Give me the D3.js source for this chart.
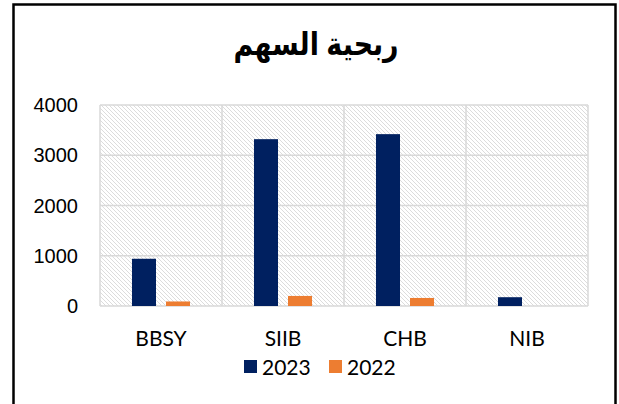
<!DOCTYPE html>
<html>
<head>
<meta charset="utf-8">
<script src="https://cdn.jsdelivr.net/npm/d3@7"></script>
<style>
  html, body { margin: 0; padding: 0; background: #fff; }
  svg { display: block; }
</style>
</head>
<body>
<svg id="chart" width="619" height="404"></svg>
<script>
// data
const categories = ["BBSY", "SIIB", "CHB", "NIB"];
const seriesNames = ["2023", "2022"];
const values2023 = [940, 3320, 3420, 175];
const values2022 = [90, 200, 160, 0];
const yTicks = [0, 1000, 2000, 3000, 4000];
const colors = { "2023": "#002060", "2022": "#ED7D31" };

const svg = d3.select("#chart");
const W = 619, H = 404;
const plot = { left: 100, right: 588, top: 105, bottom: 306 };

svg.append("rect").attr("width", W).attr("height", H).attr("fill", "#fff");

// hatch pattern for plot area
const defs = svg.append("defs");
const pat = defs.append("pattern")
    .attr("id", "hatch")
    .attr("patternUnits", "userSpaceOnUse")
    .attr("width", 4).attr("height", 4);
pat.append("rect").attr("width", 4).attr("height", 4).attr("fill", "#fff");
pat.append("path")
    .attr("d", "M-1,-1 L5,5 M-1,3 L1,5 M3,-1 L5,1")
    .attr("stroke", "#dcdcdc")
    .attr("stroke-width", 1);

// outer frame
svg.append("rect")
    .attr("x", 13.5).attr("y", 4.5)
    .attr("width", 602).attr("height", 430)
    .attr("fill", "none")
    .attr("stroke", "#000")
    .attr("stroke-width", 2.5);

// title (squeezed a bit horizontally)
svg.append("g")
    .attr("transform", "translate(316,55) scale(0.84,1)")
  .append("text")
    .attr("x", 0).attr("y", 0)
    .attr("text-anchor", "middle")
    .attr("direction", "rtl")
    .attr("font-family", "'Liberation Sans', 'DejaVu Sans', Arial, sans-serif")
    .attr("font-weight", "bold")
    .attr("font-size", 32)
    .attr("fill", "#000")
    .text("ربحية السهم");

// scales
const y = d3.scaleLinear().domain([0, 4000]).range([plot.bottom, plot.top]);
const x0 = d3.scaleBand().domain(categories).range([plot.left, plot.right]).padding(0);
const x1 = d3.scaleBand().domain(seriesNames).range([0, x0.bandwidth()])
    .paddingInner(0.294).paddingOuter(0.94);

// plot background
svg.append("rect")
    .attr("x", plot.left).attr("y", plot.top)
    .attr("width", plot.right - plot.left)
    .attr("height", plot.bottom - plot.top)
    .attr("fill", "url(#hatch)");

// grid
const grid = svg.append("g").attr("stroke", "#d9d9d9").attr("stroke-width", 1.5);
grid.selectAll(".hg").data(yTicks).enter().append("line")
    .attr("x1", plot.left).attr("x2", plot.right)
    .attr("y1", d => y(d)).attr("y2", d => y(d));
const vLines = categories.map(c => x0(c)).concat([plot.right]);
grid.selectAll(".vg").data(vLines).enter().append("line")
    .attr("x1", d => d).attr("x2", d => d)
    .attr("y1", plot.top).attr("y2", plot.bottom);

// bars
const rows = categories.map((c, i) => ({ cat: c, "2023": values2023[i], "2022": values2022[i] }));
const groups = svg.selectAll(".grp").data(rows).enter().append("g")
    .attr("transform", d => `translate(${x0(d.cat)},0)`);
groups.selectAll("rect")
    .data(d => seriesNames.map(s => ({ s, v: d[s] })))
    .enter().append("rect")
    .attr("x", d => x1(d.s))
    .attr("width", x1.bandwidth())
    .attr("y", d => y(d.v))
    .attr("height", d => y(0) - y(d.v))
    .attr("fill", d => colors[d.s]);

// y axis labels
svg.selectAll(".ylab").data(yTicks).enter().append("text")
    .attr("x", 78).attr("y", d => y(d))
    .attr("dy", "0.36em")
    .attr("text-anchor", "end")
    .attr("font-family", "'Liberation Sans', Arial, sans-serif")
    .attr("font-size", 20)
    .attr("fill", "#000")
    .text(d => d);

// x labels
svg.selectAll(".xlab").data(categories).enter().append("text")
    .attr("x", d => x0(d) + x0.bandwidth() / 2)
    .attr("y", 338)
    .attr("dy", "0.36em")
    .attr("text-anchor", "middle")
    .attr("font-family", "Lato, 'Open Sans', sans-serif")
    .attr("font-size", 21)
    .attr("fill", "#000")
    .text(d => d);

// legend
const legendX = [244, 329];
const leg = svg.selectAll(".leg").data(seriesNames).enter().append("g")
    .attr("transform", (d, i) => `translate(${legendX[i]},360)`);
leg.append("rect").attr("width", 13).attr("height", 13).attr("fill", d => colors[d]);
leg.append("text")
    .attr("x", 18).attr("y", 7)
    .attr("dy", "0.36em")
    .attr("font-family", "Lato, 'Open Sans', sans-serif")
    .attr("font-size", 21)
    .attr("fill", "#000")
    .text(d => d);
</script>
</body>
</html>
